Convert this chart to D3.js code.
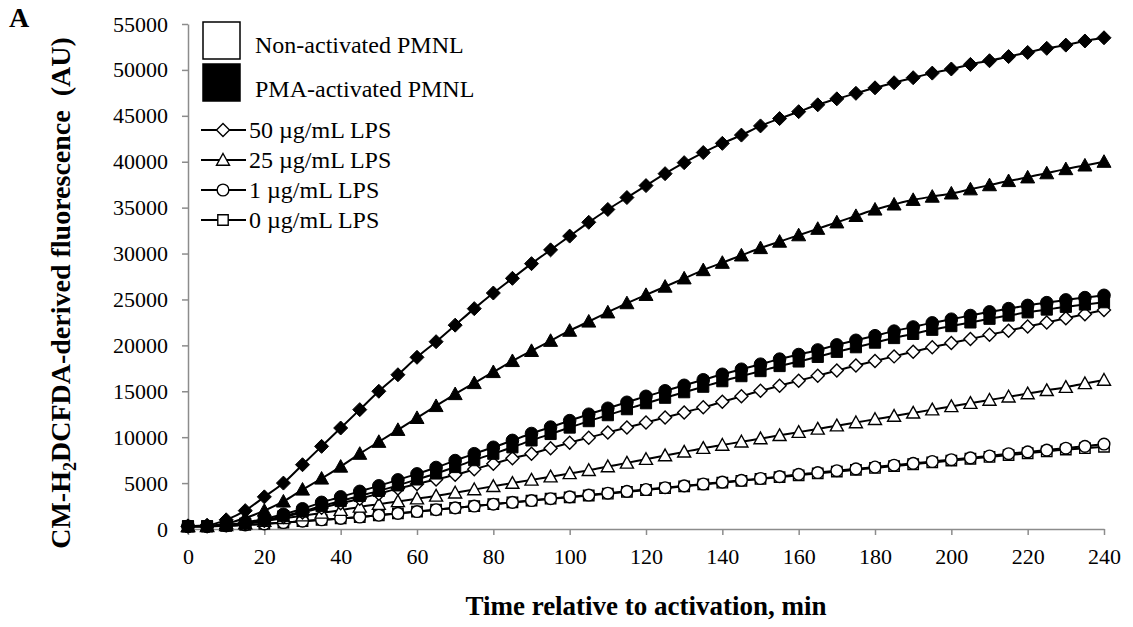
<!DOCTYPE html>
<html>
<head>
<meta charset="utf-8">
<script src="https://cdn.jsdelivr.net/npm/d3@7"></script>
<style>
  body { margin: 0; background: #fff; }
  svg text { font-family: "Liberation Serif", "Times New Roman", serif !important; fill: #000; }
  .axis path, .axis line { stroke: #8c8c8c; stroke-width: 1.5; }
</style>
</head>
<body>
<div id="chart"></div>
<script>
// time points, min
const minutes = [0, 5, 10, 15, 20, 25, 30, 35, 40, 45, 50, 55, 60, 65, 70, 75, 80, 85, 90, 95,
    100, 105, 110, 115, 120, 125, 130, 135, 140, 145, 150, 155, 160, 165, 170, 175, 180, 185, 190, 195,
    200, 205, 210, 215, 220, 225, 230, 235, 240];

// PMA-activated PMNL
const pma50 = [300, 400, 1000, 2000, 3500, 5000, 7000, 9000, 11000, 13000, 15000, 16800, 18700, 20400, 22200, 24000, 25700, 27300, 28900, 30400,
    31900, 33400, 34800, 36100, 37400, 38700, 39900, 41000, 42000, 42900, 43900, 44700, 45450, 46200, 46850, 47450, 48050, 48600, 49150, 49650,
    50100, 50600, 51000, 51450, 51900, 52350, 52700, 53150, 53500];
const pma25 = [300, 350, 600, 1200, 2000, 3000, 4300, 5500, 6800, 8200, 9500, 10800, 12100, 13400, 14700, 15900, 17100, 18300, 19400, 20500,
    21600, 22600, 23600, 24600, 25500, 26400, 27300, 28200, 29000, 29800, 30600, 31300, 32000, 32700, 33400, 34100, 34800, 35350, 35850, 36200,
    36550, 37000, 37450, 37900, 38300, 38750, 39200, 39600, 40000];
const pma1 = [300, 300, 450, 700, 1100, 1600, 2200, 2900, 3500, 4100, 4700, 5350, 6000, 6700, 7450, 8200, 8900, 9650, 10400, 11100,
    11800, 12500, 13150, 13800, 14450, 15050, 15650, 16250, 16850, 17400, 17950, 18500, 19000, 19500, 20050, 20550, 21050, 21550, 22000, 22450,
    22850, 23250, 23650, 24000, 24350, 24650, 24950, 25200, 25450];
const pma0 = [300, 300, 400, 600, 950, 1400, 1900, 2500, 3050, 3600, 4150, 4750, 5400, 6050, 6750, 7500, 8200, 8900, 9650, 10350,
    11050, 11750, 12400, 13050, 13700, 14300, 14900, 15500, 16100, 16650, 17200, 17750, 18250, 18750, 19300, 19800, 20300, 20800, 21250, 21700,
    22100, 22500, 22900, 23250, 23600, 23900, 24200, 24450, 24700];

// non-activated PMNL
const non50 = [300, 300, 400, 600, 900, 1300, 1800, 2300, 2800, 3300, 3850, 4400, 4900, 5400, 5900, 6500, 7100, 7700, 8200, 8800,
    9400, 9950, 10500, 11050, 11600, 12150, 12700, 13250, 13850, 14450, 15050, 15600, 16150, 16700, 17250, 17800, 18300, 18800, 19300, 19800,
    20250, 20700, 21150, 21600, 22050, 22500, 22950, 23400, 23850];
const non25 = [300, 300, 400, 600, 850, 1150, 1450, 1750, 2050, 2400, 2700, 3000, 3300, 3600, 3950, 4300, 4650, 5000, 5350, 5700,
    6050, 6400, 6800, 7200, 7600, 8000, 8400, 8800, 9150, 9500, 9850, 10200, 10550, 10900, 11250, 11600, 11950, 12300, 12650, 13000,
    13350, 13700, 14050, 14400, 14750, 15100, 15450, 15850, 16230];
const non1 = [300, 300, 350, 450, 550, 700, 850, 1000, 1150, 1300, 1500, 1700, 1900, 2100, 2300, 2500, 2700, 2900, 3100, 3300,
    3500, 3700, 3900, 4100, 4300, 4500, 4700, 4900, 5100, 5300, 5500, 5700, 5950, 6150, 6350, 6550, 6750, 6950, 7150, 7350,
    7550, 7750, 7950, 8200, 8400, 8600, 8800, 9000, 9250];
const non0 = [300, 300, 350, 450, 550, 700, 850, 1000, 1150, 1300, 1500, 1700, 1900, 2100, 2300, 2500, 2700, 2900, 3100, 3300,
    3450, 3650, 3850, 4050, 4250, 4450, 4650, 4850, 5050, 5250, 5450, 5650, 5850, 6050, 6250, 6450, 6650, 6850, 7050, 7250,
    7450, 7650, 7850, 8050, 8250, 8450, 8650, 8800, 8950];

const yTicks = [0, 5000, 10000, 15000, 20000, 25000, 30000, 35000, 40000, 45000, 50000, 55000];
const xTicks = [0, 20, 40, 60, 80, 100, 120, 140, 160, 180, 200, 220, 240];
const doses = ["50 µg/mL LPS", "25 µg/mL LPS", "1 µg/mL LPS", "0 µg/mL LPS"];
const groups = ["Non-activated PMNL", "PMA-activated PMNL"];

// series: drawn hollow ones first, then filled
const series = [
    {values: non0, shape: "square", filled: false},
    {values: non1, shape: "circle", filled: false},
    {values: non25, shape: "triangle", filled: false},
    {values: non50, shape: "diamond", filled: false},
    {values: pma0, shape: "square", filled: true},
    {values: pma1, shape: "circle", filled: true},
    {values: pma25, shape: "triangle", filled: true},
    {values: pma50, shape: "diamond", filled: true}
];
const legendShapes = ["diamond", "triangle", "circle", "square"];

// marker paths (s = half size)
function markerPath(shape, s) {
    if (shape == "diamond") return `M0,${-s}L${s},0L0,${s}L${-s},0Z`;
    if (shape == "triangle") return `M0,${-s}L${s},${s * 0.8}L${-s},${s * 0.8}Z`;
    if (shape == "square") return `M${-s * 0.8},${-s * 0.8}H${s * 0.8}V${s * 0.8}H${-s * 0.8}Z`;
    let r = s * 0.9;
    return `M${r},0A${r},${r} 0 1,1 ${-r},0A${r},${r} 0 1,1 ${r},0Z`;
}

const width = 1133, height = 627;
const margin = {top: 24, right: 29, bottom: 98, left: 188};

const svg = d3.select("#chart").append("svg")
    .attr("width", width)
    .attr("height", height);

const x = d3.scaleLinear()
    .domain([0, 240])
    .range([margin.left, width - margin.right]);
const y = d3.scaleLinear()
    .domain([0, 55000])
    .range([height - margin.bottom, margin.top]);

// axes
svg.append("g")
    .attr("class", "axis")
    .attr("transform", "translate(0," + y(0) + ")")
    .call(d3.axisBottom(x).tickValues(xTicks).tickSizeInner(6).tickSizeOuter(0).tickPadding(13))
    .call(g => g.selectAll("text").style("font-size", "22px"));

svg.append("g")
    .attr("class", "axis")
    .attr("transform", "translate(" + x(0) + ",0)")
    .call(d3.axisLeft(y).tickValues(yTicks).tickFormat(d3.format("d")).tickSizeInner(6).tickSizeOuter(0).tickPadding(14))
    .call(g => g.selectAll("text").style("font-size", "22px"));

// lines + markers
const line = d3.line()
    .x((d, i) => x(minutes[i]))
    .y(d => y(d))
    .curve(d3.curveMonotoneX);

series.forEach(s => {
    const g = svg.append("g");
    g.append("path")
        .attr("d", line(s.values))
        .attr("fill", "none")
        .attr("stroke", "#000")
        .attr("stroke-width", 2);
    const size = s.filled ? 7 : 6.5;
    g.selectAll("path.mark")
        .data(s.values)
        .join("path")
        .attr("class", "mark")
        .attr("transform", (d, i) => "translate(" + x(minutes[i]) + "," + y(d) + ")")
        .attr("d", markerPath(s.shape, size))
        .attr("fill", s.filled ? "#000" : "#fff")
        .attr("stroke", "#000")
        .attr("stroke-width", s.filled ? 1 : 1.4);
});

// legend: group boxes
const boxes = svg.append("g");
groups.forEach((t, i) => {
    boxes.append("rect")
        .attr("x", 203).attr("y", 22 + i * 42)
        .attr("width", 37).attr("height", 37)
        .attr("fill", i == 0 ? "#fff" : "#000")
        .attr("stroke", "#000").attr("stroke-width", 1.5);
    boxes.append("text")
        .attr("x", 255).attr("y", 53 + i * 44)
        .style("font-size", "24px")
        .text(t);
});

// legend: doses
doses.forEach((t, i) => {
    const cy = 130 + i * 30;
    svg.append("line")
        .attr("x1", 201).attr("x2", 246)
        .attr("y1", cy).attr("y2", cy)
        .attr("stroke", "#000").attr("stroke-width", 2);
    svg.append("path")
        .attr("transform", "translate(223," + cy + ")")
        .attr("d", markerPath(legendShapes[i], 6.5))
        .attr("fill", "#fff").attr("stroke", "#000").attr("stroke-width", 1.4);
    svg.append("text")
        .attr("x", 249).attr("y", cy + 8)
        .style("font-size", "24px")
        .text(t);
});

// titles
svg.append("text")
    .attr("x", 9).attr("y", 27)
    .style("font-size", "28px").style("font-weight", "bold")
    .text("A");

svg.append("text")
    .attr("x", (x(0) + x(240)) / 2).attr("y", 615)
    .attr("text-anchor", "middle")
    .style("font-size", "27px").style("font-weight", "bold")
    .text("Time relative to activation, min");

const yl = svg.append("text")
    .attr("transform", "translate(70,293) rotate(-90)")
    .attr("text-anchor", "middle")
    .style("font-size", "28px").style("font-weight", "bold");
yl.append("tspan").text("CM-H");
yl.append("tspan").style("font-size", "18px").attr("dy", 6).text("2");
yl.append("tspan").attr("dy", -6).text("DCFDA-derived fluorescence\u00a0\u00a0(AU)");
</script>
</body>
</html>
